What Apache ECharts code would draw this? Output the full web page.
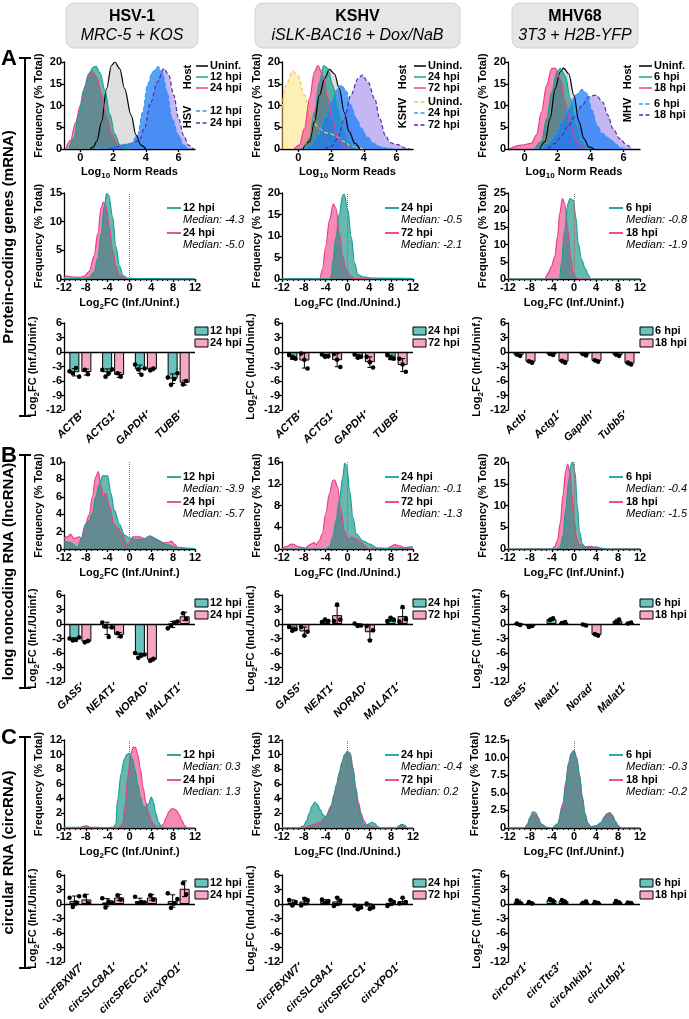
<!DOCTYPE html>
<html><head><meta charset="utf-8">
<script src="https://cdn.jsdelivr.net/npm/echarts@6/dist/echarts.min.js"></script>
<style>html,body{margin:0;padding:0;background:#fff}#c{width:689px;height:1019px}</style>
</head><body><div id="c"></div><script>
// ---------------- DATA ----------------
// Row A top: Log10 normalized reads density ([x, % total])
const hsvHostUninf=[[0.6,0],[0.8,0.5],[1,1.8],[1.3,6.3],[1.6,13.9],[1.9,19.2],[2.1,20],[2.4,18.5],[2.7,13.9],[3.1,7.8],[3.4,3.2],[3.7,0.9],[4,0]];
const hsvHost12=[[-0.7,0],[-0.4,2.5],[-0.1,8],[0.2,13.5],[0.5,17.2],[0.8,18.8],[0.95,19],[1.2,17.5],[1.5,13.5],[1.8,8],[2.1,3.5],[2.4,1],[2.7,0.1],[3,0]];
const hsvHost24=[[-0.9,0],[-0.6,2],[-0.3,6],[0,10],[0.3,14.5],[0.6,17.6],[0.75,17.8],[1,16.5],[1.3,12.5],[1.6,7.5],[1.9,3.5],[2.2,1.3],[2.6,0.3],[3,0]];
const hsvVir12=[[1,0],[1.6,0.3],[2.4,0.9],[3.1,1.3],[3.5,3.2],[3.8,8.5],[4.1,14.7],[4.4,17.7],[4.75,18.9],[5,17.7],[5.3,13.1],[5.6,7],[6,3.2],[6.3,0.9],[6.6,0]];
const hsvVir24=[[1.8,0],[2.6,0.9],[3.1,1.3],[3.6,2],[3.9,4.7],[4.3,10.8],[4.7,15.4],[5.1,18.5],[5.4,17],[5.7,12.4],[6,7],[6.3,3.2],[6.6,0.9],[6.9,0]];
const kshvHostUnind=[[0.27,0],[0.68,1.7],[0.98,6.3],[1.29,12.4],[1.6,16.2],[1.9,18.3],[2.2,17.3],[2.5,13.9],[2.8,8.5],[3.1,4],[3.45,1.3],[3.75,0]];
const kshvHost24=[[0.37,0],[0.68,2.4],[0.98,8.5],[1.29,15.4],[1.54,19.2],[1.8,18.5],[2.1,14.7],[2.4,9.3],[2.7,4.7],[3,1.7],[3.3,0.3],[3.6,0]];
const kshvHost72=[[-0.25,0],[0.06,0.9],[0.37,4.7],[0.68,11.6],[0.98,17.7],[1.19,19.2],[1.5,16.9],[1.8,11.6],[2.1,6.3],[2.4,2.4],[2.8,0.5],[3.1,0]];
const kshvVirUnind=[[-1,9.5],[-0.76,14.7],[-0.35,17.9],[-0.04,16.9],[0.37,12.4],[0.77,7.8],[1.19,5.1],[1.6,3.8],[2,3.4],[2.4,2.8],[2.8,1.7],[3.2,0.7],[3.65,0.2],[4,0]];
const kshvVir24=[[0,0],[0.37,0.2],[0.77,0.9],[1.19,3.2],[1.6,7],[2,10.8],[2.4,13.9],[2.6,14.7],[2.9,13.5],[3.2,10.1],[3.55,7],[3.86,4.7],[4.2,2.8],[4.6,1.3],[5,0.5],[5.5,0.2],[5.9,0]];
const kshvVir72=[[1.6,0],[2,0.5],[2.4,2.4],[2.8,7],[3.2,12.4],[3.65,16.2],[3.9,17],[4.25,15.4],[4.66,11.6],[4.97,7],[5.3,3.2],[5.6,1.5],[5.9,1.1],[6.2,0.9],[6.5,0.2],[6.8,0]];
const mhvHostUninf=[[0.93,0],[1.24,1.7],[1.55,7],[1.86,13.9],[2.16,17.7],[2.37,18.6],[2.68,17.3],[2.99,12.4],[3.3,6.3],[3.6,2.4],[3.9,0.5],[4.2,0]];
const mhvHost6=[[0.62,0],[1.03,1.7],[1.34,7],[1.65,13.1],[1.96,17.7],[2.16,18.5],[2.47,16.9],[2.78,11.6],[3.1,5.5],[3.4,1.7],[3.7,0.3],[4,0]];
const mhvHost18=[[-0.93,0],[-0.2,0.9],[0.41,1.3],[0.72,3.2],[1.03,8.5],[1.34,14.7],[1.65,18.5],[1.86,18.6],[2.16,16.2],[2.47,10.8],[2.78,5.5],[3.1,2.1],[3.4,0.5],[3.7,0]];
const mhvVir6=[[0.6,0],[0.93,0.2],[1.44,1.3],[1.86,3.2],[2.27,6.3],[2.68,9.3],[3.1,12.4],[3.5,13.7],[3.8,12.7],[4.1,8.9],[4.4,5.5],[4.7,3.6],[5.15,2.4],[5.5,1.3],[5.8,0.3],[6.1,0]];
const mhvVir18=[[1.44,0],[1.86,1.3],[2.27,3.2],[2.68,5.5],[3.1,7.8],[3.5,10.1],[3.9,12],[4.33,12.4],[4.74,10.8],[5.05,7.8],[5.36,4.7],[5.77,2.4],[6.2,0.9],[6.5,0]];

// Log2FC distributions ([log2FC, % total])
const mrnaHsv12=[[-12,0.05],[-9,0.05],[-8.3,0.1],[-7.4,0.3],[-6.5,1.2],[-5.8,3.6],[-5.2,8],[-4.6,12.7],[-4.2,14.9],[-3.8,14.6],[-3.1,10.9],[-2.5,5.7],[-1.8,2.2],[-1.2,0.6],[-0.3,0.1],[3,0.05],[12,0.02]];
const mrnaHsv24=[[-12,0.3],[-11.4,0.5],[-10.5,0.35],[-9.2,0.3],[-8.3,0.5],[-7.4,1.3],[-6.5,4],[-5.8,8],[-5.2,12.4],[-4.8,13.4],[-4.3,12.7],[-3.7,9.2],[-3.1,5.1],[-2.5,2.2],[-1.8,0.6],[-0.9,0.1],[3,0.02],[12,0]];
const mrnaKshv24=[[-12,0.05],[-3.2,0.05],[-2.9,1],[-2.7,4.2],[-2.1,9.8],[-1.5,15.2],[-0.9,19.4],[-0.6,19.7],[0.06,16],[0.68,9.8],[1.3,3.7],[1.9,1],[2.8,0.5],[4.7,0.2],[12,0.1]];
const mrnaKshv72=[[-12,0],[-5.1,0],[-4.6,2.2],[-4,7.5],[-3.3,13.7],[-2.6,17.5],[-2.1,16.4],[-1.5,10.6],[-0.87,5.2],[-0.25,2.2],[0.37,0.8],[1.3,0.15],[3,0],[12,0]];
const mrnaMhv6=[[-12,0],[-2.6,0],[-2.3,4.6],[-1.7,14.2],[-1.1,21.9],[-0.76,23.4],[-0.15,22.9],[0.33,18],[0.76,10.4],[1.4,5.6],[2,3.2],[2.6,1.25],[3,0],[12,0]];
const mrnaMhv18=[[-12,0],[-5.3,0],[-4.7,1.7],[-4.1,3.7],[-3.5,6.5],[-3,12.3],[-2.6,19],[-2.1,23.4],[-1.7,21.9],[-1.1,14.2],[-0.6,6.5],[-0.15,1.7],[0.45,0.2],[1.1,0],[12,0]];
const lncHsv12=[[-12,0.9],[-10.8,0.75],[-9.5,0.2],[-8.9,1.1],[-8.1,2.8],[-7.4,3.2],[-6.8,4.1],[-6.2,6],[-5.5,7.5],[-4.9,8.4],[-4,8.4],[-3.4,6.4],[-2.8,4.5],[-1.8,2.8],[-0.9,1.6],[0,1.25],[1.2,1.1],[2.5,1.1],[3.7,1.5],[4.6,1.25],[5.5,0.9],[6.8,0.5],[8.6,0.2],[10.5,0.1],[12,0.05]];
const lncHsv24=[[-12,1.25],[-11.4,1.4],[-10.8,1.7],[-10.2,1.2],[-9.2,1.4],[-8.6,1.1],[-8.1,2.8],[-7.4,3.9],[-6.8,6],[-6.2,8.3],[-5.7,8.9],[-5.2,7.1],[-4.8,6],[-4.3,6.4],[-3.7,4.9],[-2.8,2.8],[-2.2,2.4],[-1.2,1.6],[-0.5,0.5],[0,0.7],[0.6,1.4],[1.8,1.4],[3.1,1.1],[4,1.4],[4.9,1.1],[6.2,0.7],[7.1,0.75],[7.7,0.9],[8.3,0.5],[8.9,0]];
const lncKshv24=[[-12,0],[-4,0],[-3.3,0.4],[-2.7,2.2],[-2.1,5.2],[-1.5,8.9],[-0.87,13.2],[-0.5,15.8],[-0.12,15.1],[0.37,10.8],[1,5.8],[1.6,2.8],[2.8,1.5],[4.1,0.9],[5.3,0.2],[7.8,0.1],[10.3,0.2],[11.5,0.4],[12,0.4]];
const lncKshv72=[[-12,0],[-11.4,0.4],[-10.1,0.9],[-8.9,0.4],[-7.7,0.2],[-6.7,0.9],[-6.1,1.2],[-5.7,0.8],[-5.2,1.5],[-4.6,2.8],[-4,6.5],[-3.3,10.2],[-2.7,12.6],[-2.4,12.7],[-1.8,11.4],[-1.2,7.1],[-0.56,3.4],[0.06,1.8],[0.68,2.2],[1.3,2],[2.2,1.5],[3.2,0.6],[3.8,0],[7.2,0],[7.8,0.4],[8.7,0.8],[9.6,0.6],[10.6,0.1],[12,0]];
const lncMhv6=[[-12,0],[-3,0],[-2.5,0.5],[-2,3],[-1.5,9],[-1,15.5],[-0.5,19.5],[-0.25,20],[0.2,17.5],[0.6,10],[1,4],[1.5,1.2],[2,0.5],[3,0.3],[4,0.5],[5,0.2],[6,0],[12,0]];
const lncMhv18=[[-12,0],[-4,0],[-3.5,0.5],[-3,2],[-2.5,6],[-2,12.5],[-1.5,18],[-1.15,19.5],[-0.7,17.5],[-0.3,12],[0,7],[0.5,2.5],[1,1],[2,0.5],[3,0.6],[4,0.3],[5,0],[12,0]];
const circHsv12=[[-12,0.1],[-8,0.1],[-4,0.05],[-3,0.1],[-2.5,0.5],[-2.2,3.8],[-1.5,7.5],[-1,9.3],[-0.5,10],[0,10.2],[0.5,9.5],[1,8],[1.5,6],[2,4.2],[2.5,3],[3,2.8],[3.5,3.3],[4,4.2],[4.4,3.5],[4.8,2],[5.3,0.8],[5.9,0.1],[7,0],[12,0]];
const circHsv24=[[-12,0],[-9,0],[-8.5,0.2],[-8,0.3],[-7.5,0.2],[-7,0],[-2,0],[-1.3,0.5],[-0.8,3],[-0.3,7],[0.2,10],[0.7,11],[1.1,11],[1.5,10],[2,8],[2.5,5.5],[3,3.5],[3.5,2],[4,1],[4.5,0.4],[5,0.1],[5.6,0.1],[6.2,0.5],[6.7,1.4],[7.2,2.2],[7.7,2.6],[8.1,2.6],[8.6,2.4],[9.1,1.8],[9.6,1],[10.1,0.3],[10.6,0],[12,0]];
const circKshv24=[[-12,0],[-9,0],[-8,0.3],[-7.5,1],[-7,2],[-6.5,3],[-6,3.5],[-5.5,3.2],[-5,2.5],[-4.5,1.8],[-4,1.5],[-3.5,2],[-3,3],[-2.5,4.5],[-2,6],[-1.5,7.5],[-1,9],[-0.5,10],[0,10.5],[0.5,10],[1,8],[1.5,5.5],[2,3],[2.5,1.5],[3,0.5],[3.5,0.3],[4,0.6],[4.5,0.8],[5,0.6],[5.5,0.2],[6,0],[9,0],[9.5,0.3],[10,0.5],[10.5,0.3],[11,0],[12,0]];
const circKshv72=[[-12,0],[-8,0],[-7,0.3],[-6,0.5],[-5,0.8],[-4,1.5],[-3,3],[-2,5.5],[-1.5,7.5],[-1,9],[-0.5,10],[0,10.3],[0.5,10.2],[1,8.2],[1.5,5.5],[2,3.5],[2.5,2],[3,1],[3.5,0.5],[4,0.3],[5,0.1],[6,0],[9,0],[9.5,0.3],[10,0.5],[10.5,0.3],[11,0],[12,0]];
const circMhv6=[[-12,0],[-9,0],[-8.5,0.5],[-8,1.5],[-7.5,2.3],[-7,2.2],[-6.5,1.5],[-6,0.6],[-5,0.1],[-4,0],[-3,0.5],[-2,3],[-1.5,6],[-1,9],[-0.5,10.5],[0,11],[0.5,10],[1,7.5],[1.5,4.5],[2,2],[2.5,0.7],[3,0.2],[4,0.3],[5,0.8],[5.5,1.5],[6,2],[6.5,2.2],[7,1.8],[7.5,1],[8,0.3],[8.5,0],[12,0]];
const circMhv18=[[-12,0],[-9,0],[-8.5,0.4],[-8,1.3],[-7.5,2],[-7,1.9],[-6.5,1.2],[-6,0.5],[-5,0.1],[-4,0],[-3,0.6],[-2,3.5],[-1.5,6.5],[-1,9.2],[-0.5,10.6],[0,11],[0.5,9.8],[1,7.5],[1.5,4.3],[2,2],[2.5,0.7],[3,0.2],[4,0.3],[5,0.8],[5.5,1.6],[6,2],[6.5,2.1],[7,1.7],[7.5,0.9],[8,0.3],[8.5,0],[12,0]];

// Bar panels: gene labels and replicate log2FC values
const genesHsvMrna=['ACTB','ACTG1','GAPDH','TUBB'];
const genesKshvMrna=['ACTB','ACTG1','GAPDH','TUBB'];
const genesMhvMrna=['Actb','Actg1','Gapdh','Tubb5'];
const genesHsvLnc=['GAS5','NEAT1','NORAD','MALAT1'];
const genesKshvLnc=['GAS5','NEAT1','NORAD','MALAT1'];
const genesMhvLnc=['Gas5','Neat1','Norad','Malat1'];
const genesHsvCirc=['circFBXW7','circSLC8A1','circSPECC1','circXPO1'];
const genesKshvCirc=['circFBXW7','circSLC8A1','circSPECC1','circXPO1'];
const genesMhvCirc=['circOxr1','circTtc3','circAnkib1','circLtbp1'];
const hsvMrnaRep12=[[-4.0,-4.4,-3.3,-5.1],[-3.7,-5.1,-4.4,-3.6],[-2.6,-3.6,-4.7,-3.4],[-5.3,-6.8,-5.6,-4.4]];
const hsvMrnaRep24=[[-3.7,-4.6],[-4.4,-5.1],[-3.8,-3.4],[-6.7,-6.0]];
const kshvMrnaRep24=[[-0.6,-1.2,-1.4],[-0.5,-1.0,-0.9],[-0.5,-1.2,-1.0],[-0.6,-1.3,-1.4]];
const kshvMrnaRep72=[[-0.3,-1.6,-3.4],[-0.4,-1.6,-3.1],[-1.0,-2.1,-3.2],[-1.4,-2.6,-4.1]];
const mhvMrnaRep6=[[-0.5,-0.8],[-0.4,-0.6],[-0.4,-0.7],[-0.5,-0.8]];
const mhvMrnaRep18=[[-1.9,-2.2],[-1.8,-2.2],[-1.7,-2.0],[-2.2,-2.6]];
const hsvLncRep12=[[-3.0,-3.4,-3.3,-2.8],[0.3,-0.5,-2.7,-0.7],[-6.0,-7.0,-6.5,-6.3],[-0.9,-0.3,0.3,0.5]];
const hsvLncRep24=[[-3.8,-3.5],[-1.9,-2.6],[-7.6,-7.2],[2.2,1.0]];
const kshvLncRep24=[[-0.6,-1.4,-1.1],[0.4,0.9,0.6],[0.1,-0.4,-0.3],[0.6,1.3,0.9]];
const kshvLncRep72=[[-0.6,-2.4,-1.6],[0.6,4.0,0.9],[-0.4,-3.4,-1.3],[0.5,3.5,1.0]];
const mhvLncRep6=[[0.1,-0.2],[0.8,1.2],[-0.1,-0.3],[0.4,0.9]];
const mhvLncRep18=[[-0.6,-0.4],[0.2,0.4],[-2.1,-2.4],[0.1,0.3]];
const hsvCircRep12=[[1.3,-0.6,0.3,1.6],[1.2,-0.7,0.5,0.3],[1.5,0.2,0.4,0.3],[2.2,-0.8,0.1,1.0]];
const hsvCircRep24=[[1.7,0.2],[1.8,0.9],[1.8,0.9],[4.3,2.0]];
const kshvCircRep24=[[0.8,-0.3,0.4],[0.9,0.2,0.6],[-0.3,-1.1,-0.7],[-0.4,0.8,0.4]];
const kshvCircRep72=[[-0.3,1.1,0.8],[-0.4,1.3,0.7],[0.1,-1.0,-0.7],[0.1,1.3,0.4]];
const mhvCircRep6=[[0.7,0.2],[1.0,0.6],[0.2,0.5],[0.6,0.3]];
const mhvCircRep18=[[0.4,0.1],[0.8,0.4],[0.4,0.2],[0.3,0.2]];

const log10Ticks=[0,2,4,6];
const medians={hsvMrna:['-4.3','-5.0'],kshvMrna:['-0.5','-2.1'],mhvMrna:['-0.8','-1.9'],
  hsvLnc:['-3.9','-5.7'],kshvLnc:['-0.1','-1.3'],mhvLnc:['-0.4','-1.5'],
  hsvCirc:['0.3','1.3'],kshvCirc:['-0.4','0.2'],mhvCirc:['-0.3','-0.2']};

// ---------------- STYLE / LAYOUT ----------------
const F='"Liberation Sans", Arial, Helvetica, sans-serif';
const COLS=[{l:64,w:131},{l:282,w:131},{l:508,w:132}];
const ROW={a1:[62,87],a2:[193,86],a3:[323,87],b1:[462,87],b2:[595,87],c1:[740,88],c2:[875,87]};
const TEAL_L='#16a394',PINK_L='#ee3d8c';
const TEAL_F='rgba(10,140,125,0.62)',PINK_F='rgba(240,60,130,0.6)';
const GRAY_F='rgba(185,185,185,0.45)';
const BLUE_F='rgba(25,125,245,0.72)',BLUE_L='#2f9bf7';
const PURP_F='rgba(125,95,230,0.45)',PURP_L='#5a2ca0';
const YEL_F='rgba(252,225,110,0.5)',YEL_L='#f6c15a';
const TEAL_BAR='#6ac4bd',PINK_BAR='#f7a6c3';

const grid=[],xAxis=[],yAxis=[],series=[],graphic=[];
const RICH={
  b:{fontFamily:F,fontWeight:'bold',fontSize:11,color:'#000',lineHeight:13,verticalAlign:'top'},
  s:{fontFamily:F,fontWeight:'bold',fontSize:8,color:'#000',lineHeight:8,padding:[6,0,0,0],verticalAlign:'top'}
};
const sub=(a,s,b)=>`{b|${a}}{s|${s}}{b|${b}}`;
const aLine=()=>({show:true,onZero:false,lineStyle:{color:'#000',width:1.3}});
const aTick=()=>({show:true,length:3,lineStyle:{color:'#000',width:1.3}});
const aLabel=()=>({color:'#000',fontFamily:F,fontWeight:'bold',fontSize:11,margin:2});

function addGrid(ci,row){
  const gi=grid.length;
  grid.push({left:COLS[ci].l,top:row[0],width:COLS[ci].w,height:row[1]});
  return gi;
}
function yDensity(gi,max,interval,fmt){
  yAxis.push({gridIndex:gi,type:'value',min:0,max,interval,axisLine:aLine(),axisTick:aTick(),
    axisLabel:Object.assign(aLabel(),fmt?{formatter:fmt}:{}),splitLine:{show:false},
    name:'Frequency (% Total)',nameLocation:'middle',nameGap:20,
    nameTextStyle:{fontFamily:F,fontWeight:'bold',fontSize:11,color:'#000'}});
}
function curveSeries(gi,curves,zeroLine){
  curves.forEach(c=>series.push({type:'line',xAxisIndex:gi,yAxisIndex:gi,data:c.d,smooth:0.35,smoothMonotone:'x',
    symbol:'none',silent:true,lineStyle:{opacity:0,width:0},areaStyle:{color:c.f,opacity:1},z:2}));
  curves.forEach((c,i)=>{
    const s={type:'line',xAxisIndex:gi,yAxisIndex:gi,data:c.d,smooth:0.35,smoothMonotone:'x',symbol:'none',silent:true,
      lineStyle:{color:c.l,width:1.2,type:c.dash?[4,2.5]:'solid'},z:3};
    if(zeroLine&&i===0) s.markLine={silent:true,symbol:'none',label:{show:false},animation:false,
      lineStyle:{color:'#777',type:'dotted',width:1},data:[{xAxis:0}]};
    series.push(s);
  });
}
function addTopDensity(ci,curves){
  const gi=addGrid(ci,ROW.a1);
  xAxis.push({gridIndex:gi,type:'value',min:-1,max:7,interval:1,axisLine:aLine(),
    axisTick:Object.assign(aTick(),{customValues:log10Ticks}),
    axisLabel:Object.assign(aLabel(),{customValues:log10Ticks,margin:3}),splitLine:{show:false},
    name:sub('Log','10',' Norm Reads'),nameLocation:'middle',nameGap:17,nameTextStyle:{rich:RICH}});
  yDensity(gi,20,5);
  curveSeries(gi,curves,false);
}
function addFCDensity(ci,row,max,interval,teal,pink,xname,fmt){
  const gi=addGrid(ci,row);
  xAxis.push({gridIndex:gi,type:'value',min:-12,max:12,interval:4,axisLine:aLine(),axisTick:aTick(),
    minorTick:{show:true,splitNumber:4,length:2,lineStyle:{color:'#000',width:1}},
    axisLabel:Object.assign(aLabel(),{margin:3}),splitLine:{show:false},minorSplitLine:{show:false},
    name:xname,nameLocation:'middle',nameGap:18,nameTextStyle:{rich:RICH}});
  yDensity(gi,max,interval,fmt);
  curveSeries(gi,[{d:pink,f:PINK_F,l:PINK_L},{d:teal,f:TEAL_F,l:TEAL_L}],true);
}
const mean=a=>a.reduce((s,v)=>s+v,0)/a.length;
const sd=a=>{const m=mean(a);return Math.sqrt(a.reduce((s,v)=>s+(v-m)*(v-m),0)/(a.length-1));};
function addBars(ci,row,cats,r1,r2,yname){
  const gi=addGrid(ci,row);
  xAxis.push({gridIndex:gi,type:'category',data:cats,position:'bottom',axisLine:{show:false,onZero:false},
    axisTick:{show:true,alignWithLabel:true,length:3,lineStyle:{color:'#000',width:1.3}},
    axisLabel:{interval:0,rotate:45,color:'#000',fontFamily:F,fontWeight:'bold',fontStyle:'italic',fontSize:11,margin:5}});
  yAxis.push({gridIndex:gi,type:'value',min:-12,max:6,interval:3,axisLine:aLine(),axisTick:aTick(),
    axisLabel:aLabel(),splitLine:{show:false},name:yname,nameLocation:'middle',nameGap:24,
    nameTextStyle:{rich:RICH}});
  const bs={type:'bar',xAxisIndex:gi,yAxisIndex:gi,barWidth:10,barGap:'20%',silent:true,z:2};
  series.push(Object.assign({},bs,{data:r1.map(mean),itemStyle:{color:TEAL_BAR,borderColor:'#000',borderWidth:1},
    markLine:{silent:true,symbol:'none',label:{show:false},lineStyle:{color:'#000',type:'solid',width:1.3},data:[{yAxis:0}]}}));
  series.push(Object.assign({},bs,{data:r2.map(mean),itemStyle:{color:PINK_BAR,borderColor:'#000',borderWidth:1}}));
  const err=[],dots=[];
  [r1,r2].forEach((grp,g)=>grp.forEach((reps,c)=>{
    err.push([c,g,mean(reps),sd(reps)]);
    reps.forEach((v,r)=>dots.push([c,g,v,r,reps.length]));
  }));
  series.push({type:'custom',xAxisIndex:gi,yAxisIndex:gi,data:err,encode:{x:0,y:2},silent:true,z:4,
    renderItem:(p,api)=>{
      const c=api.value(0),g=api.value(1),m=api.value(2),s=api.value(3);
      const a=api.coord([c,m-s]),b=api.coord([c,m+s]);const x=a[0]+(g===0?-6:6);
      const st={stroke:'#000',lineWidth:1};
      return {type:'group',children:[
        {type:'line',shape:{x1:x,y1:a[1],x2:x,y2:b[1]},style:st},
        {type:'line',shape:{x1:x-2.5,y1:a[1],x2:x+2.5,y2:a[1]},style:st},
        {type:'line',shape:{x1:x-2.5,y1:b[1],x2:x+2.5,y2:b[1]},style:st}]};
    }});
  series.push({type:'custom',xAxisIndex:gi,yAxisIndex:gi,data:dots,encode:{x:0,y:2},silent:true,z:5,
    renderItem:(p,api)=>{
      const c=api.value(0),g=api.value(1),v=api.value(2),r=api.value(3),n=api.value(4);
      const pt=api.coord([c,v]);const x=pt[0]+(g===0?-6:6)+(r-(n-1)/2)*3.2;
      return {type:'circle',shape:{cx:x,cy:pt[1],r:2.3},style:{fill:'#000'}};
    }});
}

// graphic helpers
function gText(x,y,text,font,opts){
  graphic.push(Object.assign({type:'text',x,y,silent:true,z:10,
    style:{text,font,fill:'#000',textAlign:'left',textVerticalAlign:'middle',align:'left',verticalAlign:'middle'}},opts||{}));
}
function gRotText(x,y,text,font){
  graphic.push({type:'text',x,y,rotation:Math.PI/2,silent:true,z:10,
    style:{text,font,fill:'#000',textAlign:'center',textVerticalAlign:'middle',align:'center',verticalAlign:'middle'}});
}
function gLine(x1,y1,x2,y2,color,w,dash){
  graphic.push({type:'line',silent:true,z:10,shape:{x1,y1,x2,y2},style:{stroke:color,lineWidth:w,lineDash:dash||null}});
}
const BF='bold 11px '+F, IF='italic 11px '+F;
function topLegend(rotX,lx1,lx2,tx,host,vir,virName,virLabelY){
  gRotText(rotX,77,'Host',BF);
  host.forEach(h=>{gLine(lx1,h.y,lx2,h.y,h.c,1.5);gText(tx,h.y,h.t,BF);});
  gRotText(rotX,virLabelY,virName,BF);
  vir.forEach(h=>{gLine(lx1,h.y,lx2,h.y,h.c,1.5,[4,2.5]);gText(tx,h.y,h.t,BF);});
}
function fcLegend(lx1,lx2,tx,top,lab,med){
  gLine(lx1,top+15,lx2,top+15,TEAL_L,1.8);gText(tx,top+15,lab[0],BF);
  gText(tx,top+27,'Median: '+med[0],IF,{});
  gLine(lx1,top+40,lx2,top+40,PINK_L,1.8);gText(tx,top+40,lab[1],BF);
  gText(tx,top+52,'Median: '+med[1],IF,{});
}
function barLegend(bx,tx,top,lab){
  graphic.push({type:'rect',silent:true,z:10,shape:{x:bx,y:top+4,width:13,height:8},style:{fill:TEAL_BAR,stroke:'#000',lineWidth:1}});
  gText(tx,top+8,lab[0],BF);
  graphic.push({type:'rect',silent:true,z:10,shape:{x:bx,y:top+16,width:13,height:8},style:{fill:PINK_BAR,stroke:'#000',lineWidth:1}});
  gText(tx,top+20,lab[1],BF);
}

// ---------------- BUILD ----------------
const FC_INF=sub('Log','2','FC (Inf./Uninf.)'), FC_IND=sub('Log','2','FC (Ind./Unind.)');
addTopDensity(0,[{d:hsvHostUninf,f:GRAY_F,l:'#000'},{d:hsvHost24,f:PINK_F,l:PINK_L},{d:hsvHost12,f:TEAL_F,l:TEAL_L},
  {d:hsvVir24,f:PURP_F,l:PURP_L,dash:true},{d:hsvVir12,f:BLUE_F,l:BLUE_L,dash:true}]);
addTopDensity(1,[{d:kshvVirUnind,f:YEL_F,l:YEL_L,dash:true},{d:kshvHostUnind,f:GRAY_F,l:'#000'},{d:kshvHost72,f:PINK_F,l:PINK_L},{d:kshvHost24,f:TEAL_F,l:TEAL_L},
  {d:kshvVir72,f:PURP_F,l:PURP_L,dash:true},{d:kshvVir24,f:BLUE_F,l:BLUE_L,dash:true}]);
addTopDensity(2,[{d:mhvHostUninf,f:GRAY_F,l:'#000'},{d:mhvHost18,f:PINK_F,l:PINK_L},{d:mhvHost6,f:TEAL_F,l:TEAL_L},
  {d:mhvVir18,f:PURP_F,l:PURP_L,dash:true},{d:mhvVir6,f:BLUE_F,l:BLUE_L,dash:true}]);

addFCDensity(0,ROW.a2,15,5,mrnaHsv12,mrnaHsv24,FC_INF);
addFCDensity(1,ROW.a2,20,5,mrnaKshv24,mrnaKshv72,FC_IND);
addFCDensity(2,ROW.a2,25,5,mrnaMhv6,mrnaMhv18,FC_INF);
addBars(0,ROW.a3,genesHsvMrna,hsvMrnaRep12,hsvMrnaRep24,FC_INF);
addBars(1,ROW.a3,genesKshvMrna,kshvMrnaRep24,kshvMrnaRep72,FC_IND);
addBars(2,ROW.a3,genesMhvMrna,mhvMrnaRep6,mhvMrnaRep18,FC_INF);

addFCDensity(0,ROW.b1,10,2,lncHsv12,lncHsv24,FC_INF);
addFCDensity(1,ROW.b1,16,4,lncKshv24,lncKshv72,FC_IND);
addFCDensity(2,ROW.b1,20,5,lncMhv6,lncMhv18,FC_INF);
addBars(0,ROW.b2,genesHsvLnc,hsvLncRep12,hsvLncRep24,FC_INF);
addBars(1,ROW.b2,genesKshvLnc,kshvLncRep24,kshvLncRep72,FC_IND);
addBars(2,ROW.b2,genesMhvLnc,mhvLncRep6,mhvLncRep18,FC_INF);

addFCDensity(0,ROW.c1,12,2,circHsv12,circHsv24,FC_INF);
addFCDensity(1,ROW.c1,12,2,circKshv24,circKshv72,FC_IND);
addFCDensity(2,ROW.c1,12.5,2.5,circMhv6,circMhv18,FC_INF,v=>v===0?'0':v.toFixed(1));
addBars(0,ROW.c2,genesHsvCirc,hsvCircRep12,hsvCircRep24,FC_INF);
addBars(1,ROW.c2,genesKshvCirc,kshvCircRep24,kshvCircRep72,FC_IND);
addBars(2,ROW.c2,genesMhvCirc,mhvCircRep6,mhvCircRep18,FC_INF);

// Headers
[[66,132,'HSV-1','MRC-5 + KOS'],[255,205,'KSHV','iSLK-BAC16 + Dox/NaB'],[512,126,'MHV68','3T3 + H2B-YFP']].forEach(h=>{
  graphic.push({type:'rect',silent:true,z:1,shape:{x:h[0],y:3,width:h[1],height:45,r:8},style:{fill:'#e6e6e6',stroke:'#d2d2d2',lineWidth:1}});
  gText(h[0]+h[1]/2,17,h[2],'bold 16px '+F,{style:{text:h[2],font:'bold 16px '+F,fill:'#000',textAlign:'center',textVerticalAlign:'middle',align:'center',verticalAlign:'middle'}});
  gText(h[0]+h[1]/2,36,h[3],'italic 16px '+F,{style:{text:h[3],font:'italic 16px '+F,fill:'#000',textAlign:'center',textVerticalAlign:'middle',align:'center',verticalAlign:'middle'}});
});
// Section brackets
[['A',58,416,'Protein-coding genes (mRNA)'],['B',455,688,'long noncoding RNA (lncRNA)'],['C',737,968,'circular RNA (circRNA)']].forEach(s=>{
  gText(1,s[1]+1,s[0],'bold 22px '+F);
  gLine(25,s[1],25,s[2],'#000',2);
  gLine(19,s[1],31,s[1],'#000',2);
  gLine(19,s[2],31,s[2],'#000',2);
  gRotText(9,(s[1]+s[2])/2,s[3],'bold 15px '+F);
});
// Top legends
topLegend(188,196,208,210,[{y:66,c:'#000',t:'Uninf.'},{y:77,c:TEAL_L,t:'12 hpi'},{y:88,c:PINK_L,t:'24 hpi'}],
  [{y:111,c:BLUE_L,t:'12 hpi'},{y:123,c:PURP_L,t:'24 hpi'}],'HSV',117);
topLegend(403,414,426,428,[{y:66,c:'#000',t:'Unind.'},{y:77,c:TEAL_L,t:'24 hpi'},{y:88,c:PINK_L,t:'72 hpi'}],
  [{y:102,c:YEL_L,t:'Unind.'},{y:113,c:BLUE_L,t:'24 hpi'},{y:125,c:PURP_L,t:'72 hpi'}],'KSHV',113);
topLegend(628,639,652,654,[{y:66,c:'#000',t:'Uninf.'},{y:77,c:TEAL_L,t:'6 hpi'},{y:88,c:PINK_L,t:'18 hpi'}],
  [{y:104,c:BLUE_L,t:'6 hpi'},{y:115,c:PURP_L,t:'18 hpi'}],'MHV',110);
// FC legends
const LX=[[167,181,183,['12 hpi','24 hpi']],[385,399,401,['24 hpi','72 hpi']],[609,623,626,['6 hpi','18 hpi']]];
[[ROW.a2[0],['hsvMrna','kshvMrna','mhvMrna']],[ROW.b1[0],['hsvLnc','kshvLnc','mhvLnc']],[ROW.c1[0],['hsvCirc','kshvCirc','mhvCirc']]].forEach(r=>{
  LX.forEach((l,i)=>fcLegend(l[0],l[1],l[2],r[0],l[3],medians[r[1][i]]));
});
// Bar legends
[ROW.a3[0],ROW.b2[0],ROW.c2[0]].forEach(t=>{
  barLegend(195,210,t,['12 hpi','24 hpi']);
  barLegend(413,428,t,['24 hpi','72 hpi']);
  barLegend(640,655,t,['6 hpi','18 hpi']);
});

const chart=echarts.init(document.getElementById('c'),null,{renderer:'canvas'});
chart.setOption({animation:false,backgroundColor:'#fff',textStyle:{fontFamily:F},grid,xAxis,yAxis,series,graphic});
</script></body></html>
